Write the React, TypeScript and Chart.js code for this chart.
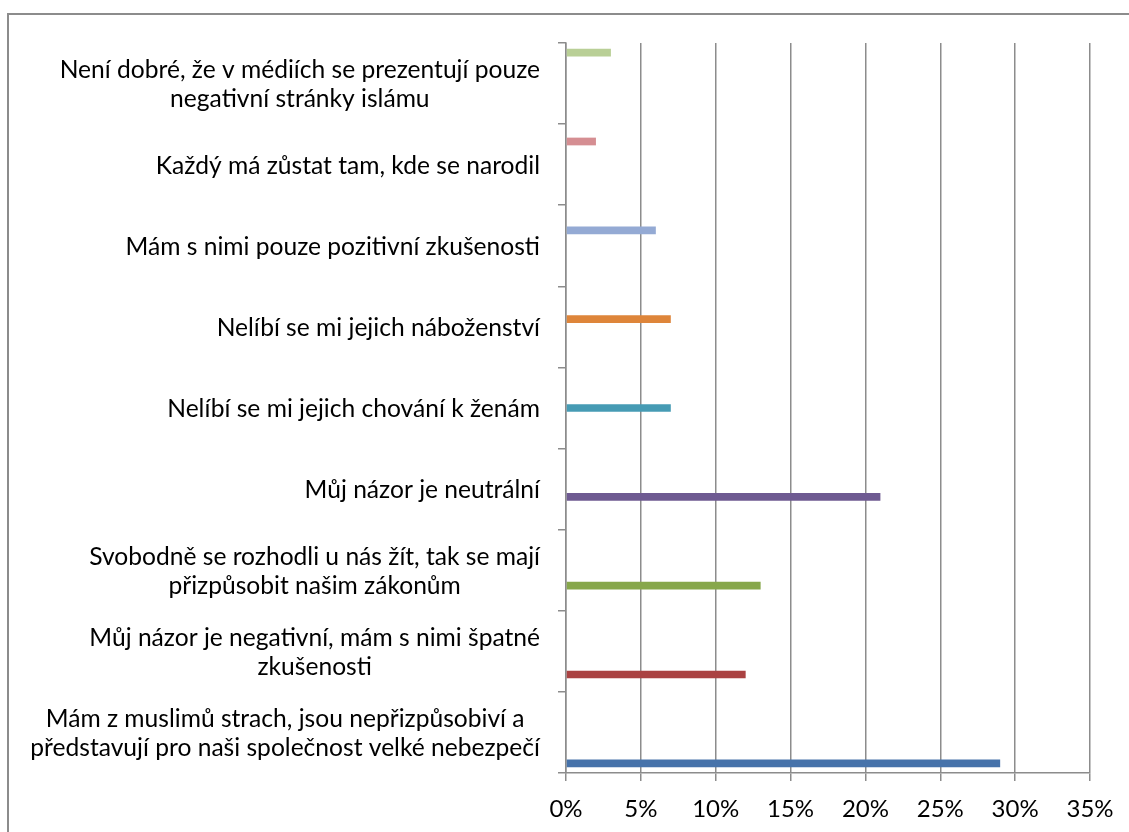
import React, { useEffect, useRef } from "react";
import { Chart, registerables } from "chart.js";

Chart.register(...registerables);

// Categories listed top-to-bottom as they appear in the chart
const categories: string[][] = [
  ["Není dobré, že v médiích se prezentují pouze", "negativní stránky islámu"],
  ["Každý má zůstat tam, kde se narodil"],
  ["Mám s nimi pouze pozitivní zkušenosti"],
  ["Nelíbí se mi jejich náboženství"],
  ["Nelíbí se mi jejich chování k ženám"],
  ["Můj názor je neutrální"],
  ["Svobodně se rozhodli u nás žít, tak se mají", "přizpůsobit našim zákonům"],
  ["Můj názor je negativní, mám s nimi špatné", "zkušenosti"],
  ["Mám z muslimů strach, jsou nepřizpůsobiví a", "představují pro naši společnost velké nebezpečí"],
];

// Percent of respondents, same order as categories
const values: number[] = [3, 2, 6, 7, 7, 21, 13, 12, 29];

const barColors: string[] = [
  "#B9CF96",
  "#D58E92",
  "#94AAD4",
  "#DE853A",
  "#469BB4",
  "#6E5A91",
  "#87A74B",
  "#AA4242",
  "#4672AA",
];

const xTicks = { min: 0, max: 35, step: 5 };

const FONT = "Lato, 'Open Sans', sans-serif";
const GRID = "#8c8c8c";

export default function App() {
  const ref = useRef<HTMLCanvasElement | null>(null);

  useEffect(() => {
    if (!ref.current) return;

    const labelPlugin = {
      id: "wrappedLabels",
      afterDraw(chart: any) {
        const ys = chart.scales.y;
        const ctx = chart.ctx;
        ctx.save();
        ctx.font = `24.6px ${FONT}`;
        ctx.fillStyle = "#000";
        ctx.textAlign = "center";
        ctx.textBaseline = "middle";
        const right = ys.right - 8 - 18;
        const LH = 29;
        categories.forEach((lines, i) => {
          const yc = ys.getPixelForTick(i) + 1;
          const w = Math.max(...lines.map((l) => ctx.measureText(l).width));
          const cx = right - w / 2;
          lines.forEach((l, j) => {
            ctx.fillText(l, cx, yc + (j - (lines.length - 1) / 2) * LH);
          });
        });
        ctx.restore();
      },
    };

    const chart = new Chart(ref.current, {
      type: "bar",
      data: {
        labels: categories,
        datasets: values.map((v, k) => ({
          label: categories[k].join(" "),
          data: values.map((_, i) => (i === k ? v : null)),
          backgroundColor: barColors[k],
          borderWidth: 0,
          categoryPercentage: 0.857,
          barPercentage: 1,
        })),
      },
      options: {
        indexAxis: "y",
        animation: false,
        responsive: false,
        devicePixelRatio: 1,
        layout: { padding: { left: 0, right: 39, top: 43, bottom: 0 } },
        plugins: {
          legend: { display: false },
          tooltip: { enabled: false },
          title: { display: false },
        },
        scales: {
          x: {
            type: "linear",
            min: xTicks.min,
            max: xTicks.max,
            afterFit: (s: any) => {
              s.height = 59;
            },
            ticks: {
              stepSize: xTicks.step,
              color: "#000",
              font: { family: FONT, size: 24 },
              padding: 14,
              maxRotation: 0,
              callback: (v: any) => `${v}%`,
            },
            grid: {
              color: GRID,
              lineWidth: 1.5,
              tickLength: 8,
              drawTicks: true,
            },
            border: { display: true, color: GRID, width: 1.5 },
          },
          y: {
            type: "category",
            offset: true,
            afterFit: (s: any) => {
              s.width = 566;
            },
            ticks: { display: false, autoSkip: false },
            grid: {
              offset: true,
              drawOnChartArea: false,
              drawTicks: true,
              tickLength: 8,
              color: GRID,
              lineWidth: 1.5,
            },
            border: { display: true, color: GRID, width: 1.5 },
          },
        },
      },
      plugins: [labelPlugin],
    } as any);

    return () => chart.destroy();
  }, []);

  return (
    <div
      style={{
        position: "fixed",
        left: 0,
        top: 0,
        width: 1129,
        height: 832,
        overflow: "hidden",
        background: "#fff",
      }}
    >
      <div
        style={{
          position: "absolute",
          left: 7,
          top: 13,
          width: 1200,
          height: 900,
          border: `2px solid ${GRID}`,
        }}
      />
      <canvas
        ref={ref}
        width={1129}
        height={832}
        style={{ position: "absolute", left: 0, top: 0 }}
      />
    </div>
  );
}
